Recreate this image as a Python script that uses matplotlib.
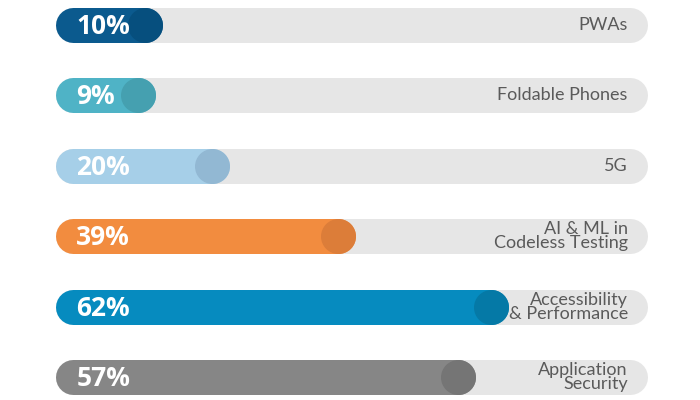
import matplotlib
matplotlib.use("Agg")
import matplotlib.pyplot as plt

categories = ["PWAs", "Foldable Phones", "5G", "AI & ML in\nCodeless Testing",
              "Accessibility\n& Performance", "Application\nSecurity"]
values = [10, 9, 20, 39, 62, 57]
value_labels = ["10%", "9%", "20%", "39%", "62%", "57%"]

bar_colors = ["#0b5a8e", "#4fb3c6", "#a6cfe8", "#f28c3f", "#068bbf", "#868686"]
cap_colors = ["#064f7e", "#45a0b0", "#92b8d3", "#dc7d39", "#0579a6", "#757575"]
track_color = "#e6e6e6"

W, H, DPI = 7, 4, 100
px_per_unit = 6.66
left_px = 55
row0_px, row_step_px = 25, 70.4
bar_h_px = 35
offset_units = 6.16       # rounded-cap extension added to every bar
track_end = 89.0

fig = plt.figure(figsize=(W, H), dpi=DPI)
ax = fig.add_axes([0, 0, 1, 1])
ax.set_xlim(-left_px / px_per_unit, (W * DPI - left_px) / px_per_unit)
ax.set_ylim((H * DPI - row0_px) / row_step_px, -row0_px / row_step_px)
ax.axis("off")

lw = bar_h_px * 72 / DPI
r = (bar_h_px / 2) / px_per_unit

for i, (cat, v, lab, c, cc) in enumerate(zip(categories, values, value_labels, bar_colors, cap_colors)):
    ax.plot([r, track_end - r], [i, i], color=track_color, lw=lw,
            solid_capstyle="round", zorder=1)
    end = v + offset_units
    ax.plot([r, end - r], [i, i], color=c, lw=lw, solid_capstyle="round", zorder=2)
    ax.plot([end - r], [i], marker="o", markersize=lw, color=cc, mew=0, zorder=3)
    ax.text(3.2, i + 0.02, lab, color="white", fontsize=19, fontweight="bold",
            family=["Open Sans", "DejaVu Sans"], va="center", ha="left", zorder=4)
    ax.text(track_end - 3.0, i, cat, color="#5a5a5a", fontsize=13,
            family=["Lato", "DejaVu Sans"], fontweight="normal",
            va="center", ha="right", linespacing=0.85, zorder=4)

fig.savefig("out.png", dpi=DPI)
